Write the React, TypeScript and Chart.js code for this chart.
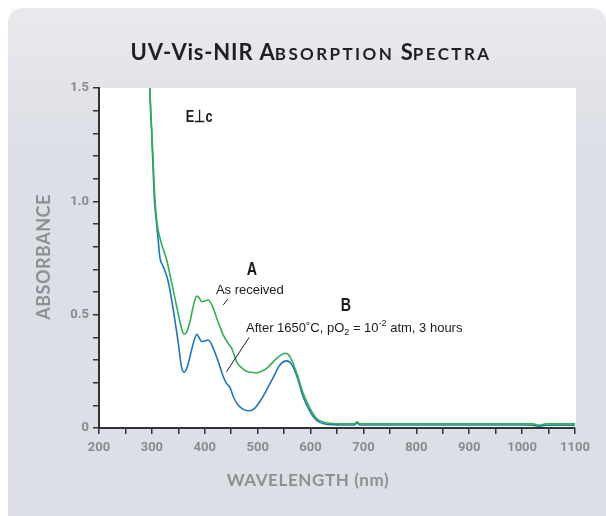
import React, { useEffect, useRef } from "react";
import { Chart, registerables } from "chart.js";

Chart.register(...registerables);

// ---- data ----
const greenNm = [292, 296, 300, 306, 310, 314, 318.5, 322, 328, 337, 347, 353, 358, 361, 366, 372, 378, 385, 390, 394, 400, 407, 416, 425, 435, 444.5, 451, 460, 473, 485, 498, 517, 536, 552, 561, 574, 586, 599, 611, 627, 649, 670, 683, 688, 693, 720, 800, 900, 1000, 1020, 1032, 1045, 1100];
const greenAbs = [1.85, 1.5, 1.3, 1.0, 0.9, 0.85, 0.81, 0.785, 0.741, 0.645, 0.535, 0.469, 0.425, 0.413, 0.425, 0.469, 0.535, 0.582, 0.572, 0.557, 0.56, 0.565, 0.528, 0.469, 0.41, 0.373, 0.351, 0.293, 0.259, 0.246, 0.244, 0.263, 0.307, 0.33, 0.315, 0.241, 0.153, 0.087, 0.043, 0.024, 0.019, 0.019, 0.019, 0.027, 0.019, 0.019, 0.019, 0.019, 0.019, 0.018, 0.013, 0.018, 0.018];

const blueNm = [292, 296, 300, 305, 309, 313, 315.3, 321.6, 331, 340.5, 350, 356, 361, 367, 375, 385, 390, 394, 400, 407, 416, 425.5, 435, 441, 447.6, 454, 463, 473, 482, 492, 504, 517, 530, 542, 555, 564, 574, 586, 599, 611, 627, 649, 670, 683, 688, 693, 720, 800, 900, 1000, 1020, 1032, 1045, 1100];
const blueAbs = [1.85, 1.5, 1.28, 1.0, 0.9, 0.8, 0.75, 0.712, 0.645, 0.52, 0.373, 0.27, 0.246, 0.27, 0.344, 0.413, 0.395, 0.381, 0.384, 0.388, 0.351, 0.293, 0.226, 0.197, 0.179, 0.138, 0.101, 0.082, 0.076, 0.082, 0.116, 0.168, 0.226, 0.278, 0.296, 0.282, 0.229, 0.138, 0.072, 0.035, 0.018, 0.014, 0.013, 0.013, 0.022, 0.013, 0.013, 0.013, 0.013, 0.013, 0.012, 0.007, 0.012, 0.012];

const xMin = 200;
const xMax = 1100;
const yMin = 0;
const yMax = 1.5;

const seriesLabels = ["As received", "After 1650˚C, pO2 = 10-2 atm, 3 hours"];
const seriesColors = ["#2fb14c", "#1b76bd"];

// annotations in data coordinates
const labelPolarization = { text: "E⊥c", x: 364, y: 1.372 };
const labelA = { text: "A", x: 489, y: 0.697 };
const labelB = { text: "B", x: 667, y: 0.538 };
const labelAsReceived = { text: "As received", x: 421, y: 0.609 };
const labelAfterSegments = [
  { t: "After 1650˚C, pO", k: "n" },
  { t: "2", k: "sub" },
  { t: " = 10", k: "n" },
  { t: "-2", k: "sup" },
  { t: " atm, 3 hours", k: "n" },
];
const labelAfterPos = { x: 478, y: 0.441 };
const leaderA = [[443.5, 0.569], [435, 0.543]];
const leaderB = [[484, 0.4], [441, 0.248]];

const CANVAS_W = 598;
const CANVAS_H = 508;

const tickFont = "Roboto, 'Liberation Sans', sans-serif";
const helv = "'Liberation Sans', Arial, sans-serif";
const titleFont = "Lato, 'Open Sans', sans-serif";

export default function App() {
  const ref = useRef<HTMLCanvasElement | null>(null);

  useEffect(() => {
    if (!ref.current) return;

    const whiteArea = {
      id: "whiteArea",
      beforeDraw(chart: any) {
        const { ctx, chartArea } = chart;
        ctx.save();
        ctx.fillStyle = "#ffffff";
        ctx.fillRect(chartArea.left, chartArea.top, chartArea.right - chartArea.left + 1, chartArea.bottom - chartArea.top);
        ctx.restore();
      },
    };

    const condensedText = (ctx: any, text: string, x: number, y: number, align: string, sx: number) => {
      ctx.save();
      ctx.translate(x, y);
      ctx.scale(sx, 1);
      ctx.textAlign = align;
      ctx.fillText(text, 0, 0);
      ctx.restore();
    };

    const annotations = {
      id: "annotations",
      afterDatasetsDraw(chart: any) {
        const { ctx } = chart;
        const sx = chart.scales.x;
        const sy = chart.scales.y;
        const px = (v: number) => sx.getPixelForValue(v);
        const py = (v: number) => sy.getPixelForValue(v);
        ctx.save();
        ctx.fillStyle = "#1a1a1a";
        ctx.textBaseline = "middle";

        ctx.font = `bold 17px ${helv}`;
        condensedText(ctx, labelPolarization.text, px(labelPolarization.x), py(labelPolarization.y), "left", 0.75);

        ctx.font = `bold 19px ${helv}`;
        condensedText(ctx, labelA.text, px(labelA.x), py(labelA.y), "center", 0.75);
        condensedText(ctx, labelB.text, px(labelB.x), py(labelB.y), "center", 0.75);

        ctx.textAlign = "left";
        ctx.font = `13px ${helv}`;
        ctx.fillText(labelAsReceived.text, px(labelAsReceived.x), py(labelAsReceived.y));

        let cx = px(labelAfterPos.x);
        const cy = py(labelAfterPos.y);
        for (const s of labelAfterSegments) {
          if (s.k === "n") {
            ctx.font = `13px ${helv}`;
            ctx.fillText(s.t, cx, cy);
          } else {
            ctx.font = `9px ${helv}`;
            ctx.fillText(s.t, cx, s.k === "sub" ? cy + 4 : cy - 5);
          }
          cx += ctx.measureText(s.t).width;
        }

        ctx.strokeStyle = "#1a1a1a";
        ctx.lineWidth = 1;
        for (const seg of [leaderA, leaderB]) {
          ctx.beginPath();
          ctx.moveTo(px(seg[0][0]), py(seg[0][1]));
          ctx.lineTo(px(seg[1][0]), py(seg[1][1]));
          ctx.stroke();
        }
        ctx.restore();
      },
    };

    const chart = new Chart(ref.current, {
      type: "line",
      data: {
        datasets: [
          {
            label: seriesLabels[0],
            data: greenNm.map((x, i) => ({ x, y: greenAbs[i] })),
            borderColor: seriesColors[0],
            borderWidth: 1.6,
            pointRadius: 0,
            cubicInterpolationMode: "monotone",
            fill: false,
          },
          {
            label: seriesLabels[1],
            data: blueNm.map((x, i) => ({ x, y: blueAbs[i] })),
            borderColor: seriesColors[1],
            borderWidth: 1.6,
            pointRadius: 0,
            cubicInterpolationMode: "monotone",
            fill: false,
          },
        ],
      },
      options: {
        animation: false,
        responsive: false,
        maintainAspectRatio: false,
        devicePixelRatio: 1,
        layout: { padding: { left: 0, right: 31, top: 80, bottom: 0 } },
        plugins: {
          legend: { display: false },
          tooltip: { enabled: false },
        },
        scales: {
          x: {
            type: "linear",
            min: xMin,
            max: xMax,
            afterFit(scale: any) {
              scale.height = 88;
            },
            border: { display: true, color: "#333333", width: 2 },
            grid: { drawOnChartArea: false, drawTicks: true, tickLength: 6, color: "#333333", lineWidth: 1.5 },
            ticks: {
              stepSize: 50,
              autoSkip: false,
              maxRotation: 0,
              padding: 6,
              color: "#8a8b8f",
              font: { family: tickFont, size: 13, weight: "bold" },
              callback: (v: any) => (Math.round(v) % 100 === 0 ? String(Math.round(v)) : ""),
            },
          },
          y: {
            type: "linear",
            min: yMin,
            max: yMax,
            afterFit(scale: any) {
              scale.width = 91;
            },
            border: { display: true, color: "#333333", width: 2 },
            grid: { drawOnChartArea: false, drawTicks: true, tickLength: 6, color: "#333333", lineWidth: 1.5 },
            ticks: {
              stepSize: 0.1,
              autoSkip: false,
              padding: 4,
              color: "#8a8b8f",
              font: { family: tickFont, size: 13, weight: "bold" },
              callback: (v: any) => {
                const r = Math.round(v * 10);
                if (r % 5 !== 0) return "";
                return r === 0 ? "0" : (r / 10).toFixed(1);
              },
            },
          },
        },
      },
      plugins: [whiteArea, annotations],
    } as any);

    return () => chart.destroy();
  }, []);

  const big = { fontSize: 22 };
  const small = { fontSize: 17, letterSpacing: 2.4 };

  return (
    <div
      style={{
        position: "fixed",
        left: 8,
        top: 8,
        width: CANVAS_W,
        height: CANVAS_H,
        borderRadius: "14px 14px 0 0",
        background: "linear-gradient(to bottom, #e9eaee 0px, #e4e5ea 60px, #dcdfe6 140px, #dcdfe6 100%)",
        overflow: "hidden",
      }}
    >
      <div
        style={{
          position: "absolute",
          left: 0,
          width: 606,
          top: 31,
          textAlign: "center",
          fontFamily: titleFont,
          fontWeight: 700,
          color: "#231f20",
          whiteSpace: "nowrap",
          lineHeight: "26px",
        }}
      >
        <span style={{ ...big, letterSpacing: 0.8 }}>UV-Vis-NIR </span>
        <span style={big}>A</span>
        <span style={small}>BSORPTION </span>
        <span style={big}>S</span>
        <span style={small}>PECTRA</span>
      </div>
      <div
        style={{
          position: "absolute",
          left: 35 - 80,
          top: 249 - 10,
          width: 160,
          height: 20,
          lineHeight: "20px",
          textAlign: "center",
          transform: "rotate(-90deg)",
          fontFamily: titleFont,
          fontWeight: 700,
          fontSize: 18,
          color: "#8e8f93",
          letterSpacing: 0.5,
        }}
      >
        ABSORBANCE
      </div>
      <div
        style={{
          position: "absolute",
          left: 300 - 120,
          top: 461,
          width: 240,
          textAlign: "center",
          fontFamily: titleFont,
          fontWeight: 700,
          fontSize: 17,
          color: "#8e8f93",
          letterSpacing: 0.6,
        }}
      >
        WAVELENGTH (nm)
      </div>
      <canvas
        ref={ref}
        width={CANVAS_W}
        height={CANVAS_H}
        style={{ position: "absolute", left: 0, top: 0, width: CANVAS_W, height: CANVAS_H }}
      />
    </div>
  );
}
